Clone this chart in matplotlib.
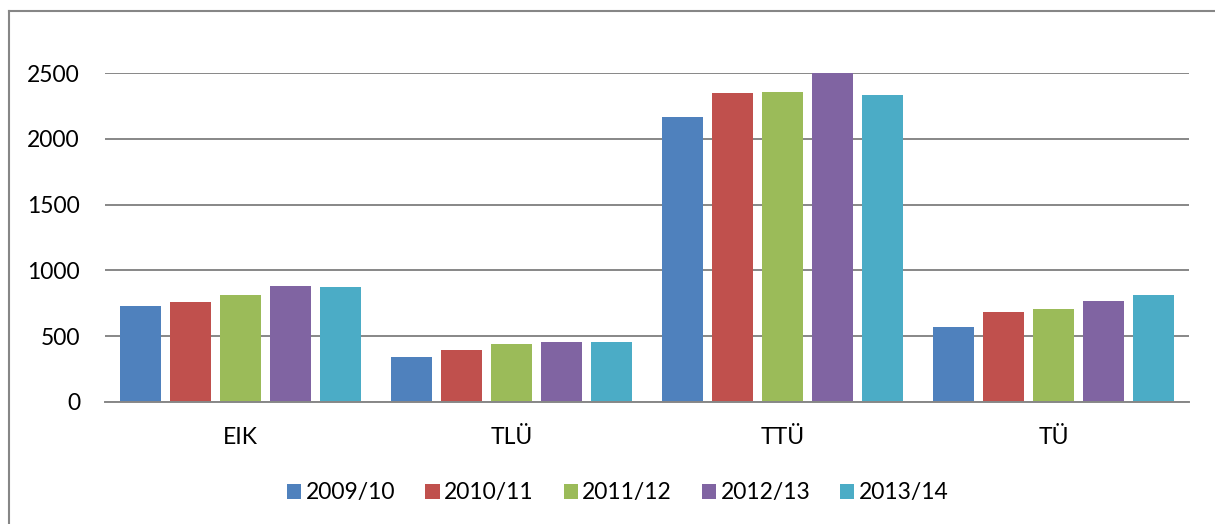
import matplotlib
matplotlib.use("Agg")
import matplotlib.pyplot as plt
from matplotlib.lines import Line2D
import numpy as np

plt.rcParams['font.family'] = ['Lato', 'DejaVu Sans']

categories = ["EIK", "TLÜ", "TTÜ", "TÜ"]
series_names = ["2009/10", "2010/11", "2011/12", "2012/13", "2013/14"]
s2009 = [733, 345, 2169, 571]
s2010 = [760, 396, 2349, 685]
s2011 = [814, 437, 2352, 705]
s2012 = [879, 457, 2500, 771]
s2013 = [876, 459, 2331, 816]
series_values = [s2009, s2010, s2011, s2012, s2013]
colors = ["#4F81BD", "#C0504D", "#9BBB59", "#8064A2", "#4BACC6"]
yticks = [0, 500, 1000, 1500, 2000, 2500]

W, H = 1215, 524
fig = plt.figure(figsize=(W / 100, H / 100), dpi=100)
ax = fig.add_axes([105 / W, 1 - 402 / H, (1189 - 105) / W, (402 - 73) / H])

x = np.arange(len(categories))
step = 50 / 271
width = 40.5 / 271
handles = []
for j, (name, vals, c) in enumerate(zip(series_names, series_values, colors)):
    b = ax.bar(x + (j - 2) * step, vals, width, color=c, label=name, zorder=2)
    handles.append(b)

ax.set_xlim(-0.5, len(categories) - 0.5)
ax.set_ylim(0, 2500)
ax.set_yticks(yticks)
ax.set_yticklabels([str(v) for v in yticks])
ax.set_xticks(x)
ax.set_xticklabels(categories)
ax.tick_params(axis='both', length=0, labelsize=16.5, colors='black')
ax.tick_params(axis='y', pad=18)
ax.tick_params(axis='x', pad=18)

ax.set_axisbelow(True)
ax.yaxis.grid(True, color='#878787', linewidth=1.4)
for s in ['top', 'right', 'left']:
    ax.spines[s].set_visible(False)
ax.spines['bottom'].set_color('#878787')
ax.spines['bottom'].set_linewidth(1.4)
ax.spines['bottom'].set_zorder(3)

leg = fig.legend(handles=handles, labels=series_names, loc='center',
                 bbox_to_anchor=(618 / W, 1 - 493 / H), ncol=5, frameon=False,
                 fontsize=16.5, handlelength=0.62, handleheight=0.62,
                 handletextpad=0.2, columnspacing=1.3, borderaxespad=0)

# outer chart border (extends beyond right and bottom edges)
fig.add_artist(Line2D([8.5 / W, 8.5 / W], [0, 1 - 11 / H], transform=fig.transFigure,
                      color='#868686', linewidth=1.5))
fig.add_artist(Line2D([8.5 / W, 1], [1 - 11 / H, 1 - 11 / H], transform=fig.transFigure,
                      color='#868686', linewidth=1.5))

fig.savefig("out.png", dpi=100)
